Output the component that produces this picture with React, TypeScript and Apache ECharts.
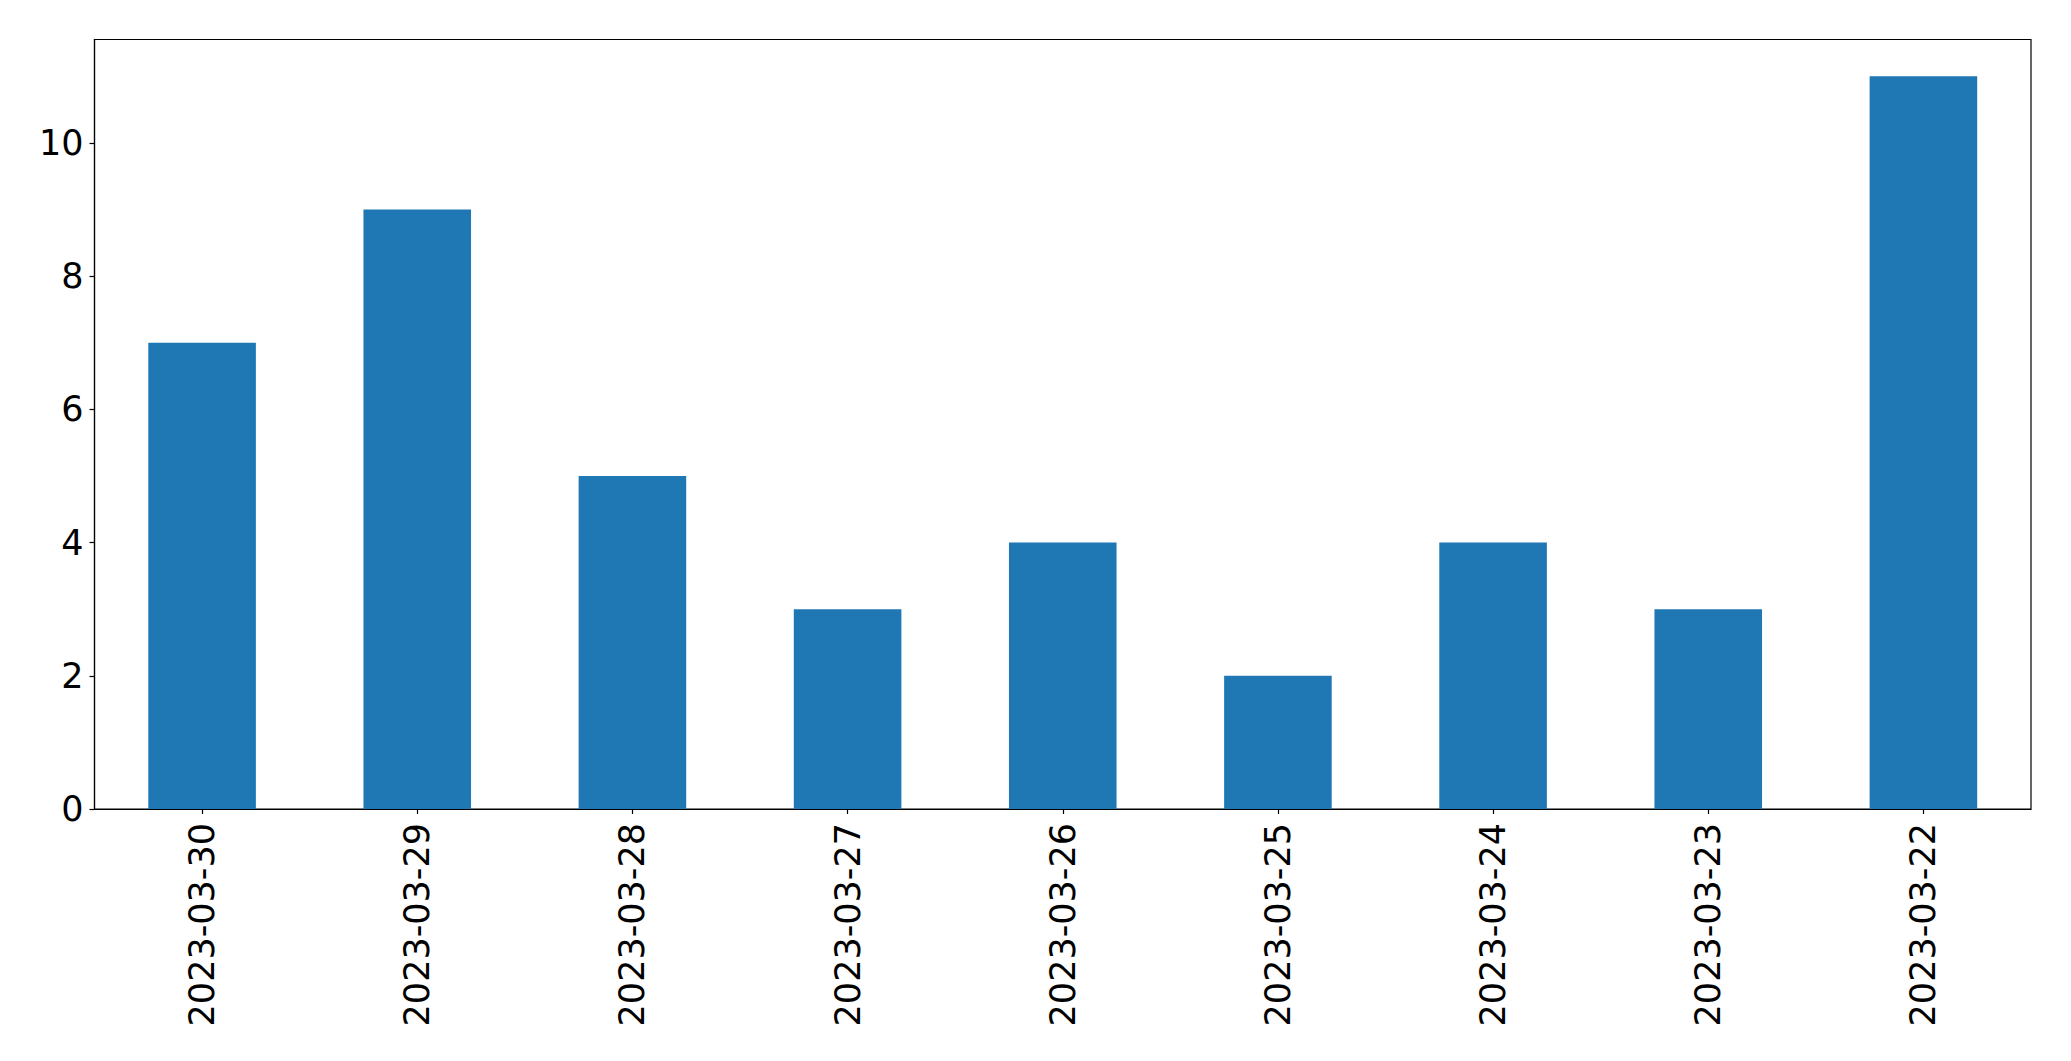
import React, { useEffect, useRef } from "react";
import * as echarts from "echarts";

const categories = [
  "2023-03-30",
  "2023-03-29",
  "2023-03-28",
  "2023-03-27",
  "2023-03-26",
  "2023-03-25",
  "2023-03-24",
  "2023-03-23",
  "2023-03-22",
];
const counts = [7, 9, 5, 3, 4, 2, 4, 3, 11];
const yMax = 11.55;
const yInterval = 2;

export default function App() {
  const ref = useRef<HTMLDivElement>(null);
  useEffect(() => {
    if (!ref.current) return;
    const chart = echarts.init(ref.current, undefined, { renderer: "svg" });
    const font = "DejaVu Sans";
    chart.setOption({
      animation: false,
      backgroundColor: "#ffffff",
      grid: {
        left: 94.5,
        right: 40,
        top: 39.5,
        bottom: 252,
        show: true,
        borderColor: "#000000",
        borderWidth: 1.2,
        backgroundColor: "transparent",
      },
      xAxis: {
        type: "category",
        data: categories,
        boundaryGap: true,
        axisLine: { show: true, lineStyle: { color: "#000", width: 1.2 } },
        axisTick: {
          show: true,
          alignWithLabel: true,
          length: 5,
          lineStyle: { color: "#000", width: 1.2 },
        },
        axisLabel: {
          rotate: 90,
          interval: 0,
          margin: 14,
          color: "#000",
          fontSize: 35,
          fontFamily: font,
        },
      },
      yAxis: {
        type: "value",
        min: 0,
        max: yMax,
        interval: yInterval,
        splitLine: { show: false },
        axisLine: { show: true, lineStyle: { color: "#000", width: 1.2 } },
        axisTick: { show: true, length: 5, lineStyle: { color: "#000", width: 1.2 } },
        axisLabel: {
          showMaxLabel: false,
          margin: 11,
          color: "#000",
          fontSize: 35,
          fontFamily: font,
        },
      },
      series: [
        {
          type: "bar",
          data: counts,
          barWidth: "50%",
          itemStyle: { color: "#1f77b4" },
        },
      ],
    });
    return () => chart.dispose();
  }, []);
  return (
    <div
      ref={ref}
      style={{ position: "fixed", left: 0, top: 0, width: 2071, height: 1061 }}
    />
  );
}
